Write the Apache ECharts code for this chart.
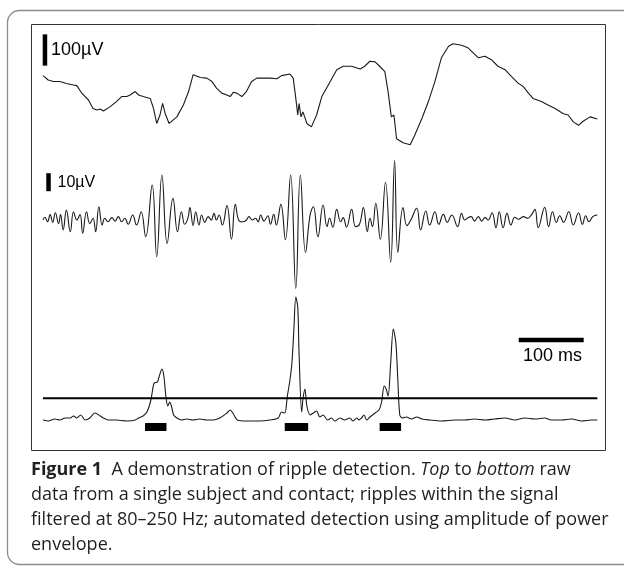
<!DOCTYPE html>
<html><head><meta charset="utf-8">
<script src="https://cdn.jsdelivr.net/npm/echarts@6/dist/echarts.min.js"></script>
<style>html,body{margin:0;padding:0;background:#fff}#c{width:624px;height:568px}</style>
</head><body><div id="c"></div>
<script>
// time in ms, raw LFP in µV
const rawTrace = [[0,78],[8,64],[16,59],[26,59],[36,53],[47,48],[52,46],[60,21],[70,0],[77,-27],[83,-32],[88,-29],[93,-35],[103,-22],[113,-5],[121,11],[129,11],[134,16],[142,27],[147,16],[154,11],[165,5],[170,-27],[175,-75],[180,-48],[184,-11],[188,-43],[194,-75],[206,-54],[216,-16],[224,27],[231,81],[242,72],[252,70],[260,59],[267,38],[275,22],[283,16],[288,11],[293,25],[298,22],[306,11],[313,27],[321,59],[329,70],[339,70],[349,70],[360,68],[367,78],[380,83],[385,70],[389,5],[392,-48],[394,-11],[397,-54],[400,-38],[406,-75],[413,-86],[421,-48],[429,11],[439,48],[452,97],[462,108],[475,108],[488,99],[495,108],[503,124],[511,122],[518,108],[526,91],[531,27],[536,-54],[540,-48],[544,-124],[554,-137],[565,-143],[572,-113],[583,-59],[593,-5],[603,59],[613,135],[624,172],[631,180],[644,175],[654,167],[662,151],[670,135],[680,140],[690,129],[700,108],[711,97],[721,75],[731,54],[739,43],[747,22],[754,5],[767,-5],[777,-16],[788,-27],[800,-43],[808,-48],[816,-70],[824,-81],[831,-68],[842,-54],[853,-61]];
// ripple band (80-250 Hz) in µV
const rippleTrace = [[0,0],[3,1.5],[7,-1],[11,3],[15,-1.3],[19,4],[24,-2],[27,3],[31,-5.5],[36,5.5],[42,-6.5],[47,4.6],[52,0],[57,3],[61,-7.4],[67,4.6],[72,-2],[77,1],[81,-6.5],[86,7.4],[91,-2.8],[95,1],[100,-1],[106,1.3],[111,-0.6],[116,1.9],[121,-1],[126,1],[131,-2.4],[138,2.8],[144,-2.8],[151,4.6],[158,-9.3],[168,19.4],[175,-20.4],[183,25],[191,-13],[200,12],[207,-6.5],[213,4.6],[218,-2.4],[223,1],[226,6.9],[231,-3.1],[235,4.6],[240,-2.8],[244,2.8],[249,-1.3],[254,1.9],[259,0],[263,3.7],[267,0],[271,2.8],[276,-2.8],[283,8],[290,-10.6],[296,8.7],[302,-0.6],[308,-1],[313,0],[317,1.9],[322,0],[327,1],[331,-1],[335,2.8],[340,-0.6],[346,2.4],[350,-2.4],[355,3.1],[359,-2.8],[366,8.7],[373,-11],[381,25],[389,-38],[396,25],[404,-18],[411,2.8],[416,7.4],[423,-9.3],[431,8.3],[437,-3.7],[441,1],[446,-4],[452,5.9],[458,-1],[462,1.3],[467,-4],[475,5.9],[481,-3.7],[487,-2.4],[493,6.9],[499,-6.5],[503,1],[507,-3.7],[512,9.3],[519,-10.6],[527,21],[535,-23.5],[541,33],[546,-18],[554,6.9],[560,-3.1],[566,0],[575,6.5],[581,-5.5],[589,5],[595,-2.8],[603,4.6],[609,-2.4],[616,3.1],[622,-1.3],[629,2.8],[638,-3.7],[644,3.7],[649,0],[654,1.3],[659,1.9],[664,-0.6],[670,1.9],[675,-0.6],[680,1.3],[685,0],[691,4],[697,-4.3],[702,4.6],[708,-4.3],[714,3.7],[720,-2.8],[726,1.5],[732,0.4],[739,1.9],[746,1],[752,3.1],[757,5.9],[762,-4.3],[772,7],[778,-3.7],[784,4.6],[790,-1.3],[795,2.4],[801,-1.3],[809,4.6],[816,-2.8],[824,4],[830,-2.4],[835,2.4],[840,-1],[846,1.9],[853,2.8]];
// power envelope amplitude (a.u.)
const envelopeTrace = [[0,0],[8,-0.1],[18,0.1],[26,0],[34,0.2],[42,0.2],[47,0.4],[52,0.2],[58,0.5],[65,0],[72,0.2],[80,0.7],[88,0.4],[93,0.2],[100,0],[113,0],[129,-0.1],[142,0],[147,0.2],[154,0.4],[160,0.8],[166,2],[171,3.7],[176,3.8],[179,4.4],[183,5.1],[186,4.4],[189,2.4],[192,1.4],[195,1.8],[198,1.3],[201,0.5],[206,0.2],[213,0],[221,0.1],[231,0],[241,0.1],[252,0],[262,0],[272,0.2],[283,0.7],[288,1],[293,0.6],[299,0],[313,-0.1],[334,-0.1],[349,0],[362,0.2],[367,0.8],[372,0.7],[376,2.4],[380,4],[383,5.7],[386,9],[389,12.3],[392,11.3],[394,6.7],[398,0.8],[400,2.1],[403,3.1],[406,1.4],[411,0.5],[416,0.7],[421,0.9],[426,0.3],[431,0.5],[438,0],[444,0.2],[449,-0.1],[457,0.2],[464,0],[472,0.2],[477,-0.1],[483,0.2],[486,0],[490,0.2],[494,0.5],[498,0],[503,0.3],[511,0.7],[517,1],[521,1.8],[525,3.4],[528,3.1],[531,2.4],[535,5.7],[539,9.1],[543,7.7],[546,4],[549,0.5],[553,0.2],[559,0.3],[567,0.1],[575,0.3],[583,0.1],[595,0],[613,-0.1],[634,0],[649,0],[664,0.1],[680,0],[695,0.1],[711,0.2],[726,0],[741,0.2],[757,0.1],[772,0.2],[782,0],[798,0],[813,0.1],[829,-0.1],[844,0],[853,0]];
const thresholdLevel = 2.17;
const detections = [[157,190],[372,408],[518,551]];
const detectionLevel = -0.7;
const timeRange = [0, 854];
const rawScaleBar = [[3,110],[3,210]];       // 100 µV
const rippleScaleBar = [[8.5,16],[8.5,26]];  // 10 µV
const timeScaleBar = [[732,8],[832,8]];      // 100 ms

const chart = echarts.init(document.getElementById('c'), null, {renderer:'canvas'});
const ink = '#1a1a1a';
const hiddenX = i => ({gridIndex:i, type:'value', min:timeRange[0], max:timeRange[1], show:false});
const lineS = (xi, data, w, extra) => Object.assign({
  type:'line', xAxisIndex:xi, yAxisIndex:xi, data:data, showSymbol:false, symbol:'none',
  silent:true, animation:false, clip:false,
  lineStyle:{color:ink, width:w, cap:'butt'}
}, extra||{});

const series = [
  lineS(0, rawTrace, 1.1),
  lineS(0, rawScaleBar, 4.5, {lineStyle:{color:'#000', width:4.5, cap:'butt'}}),
  lineS(1, rippleTrace, 1.1, {smooth:0.45}),
  lineS(1, rippleScaleBar, 4.5, {lineStyle:{color:'#000', width:4.5, cap:'butt'}}),
  lineS(2, envelopeTrace, 1.1, {smooth:0.3}),
  lineS(2, [[timeRange[0], thresholdLevel],[853, thresholdLevel]], 2, {lineStyle:{color:'#000', width:2}}),
  lineS(2, timeScaleBar, 4.5, {lineStyle:{color:'#000', width:4.5, cap:'butt'}})
].concat(detections.map(d => lineS(2, [[d[0], detectionLevel],[d[1], detectionLevel]], 8, {lineStyle:{color:'#000', width:8, cap:'butt'}})));

const capFont = '"Open Sans", "Noto Sans", sans-serif';
const capStyle = (txt, y) => ({
  type:'text', left:31, top:y, silent:true,
  style:{text:txt, font:'18px ' + capFont, fill:'#231f20',
    rich:{
      b:{fontWeight:'bold', fontSize:18, fontFamily:capFont, fill:'#231f20'},
      i:{fontStyle:'italic', fontSize:18, fontFamily:capFont, fill:'#231f20'}
    }}
});

chart.setOption({
  animation:false,
  grid:[
    {left:43, width:555, top:30, height:120},
    {left:43, width:555, top:160, height:140},
    {left:43, width:555, top:280, height:160}
  ],
  xAxis:[hiddenX(0), hiddenX(1), hiddenX(2)],
  yAxis:[
    {gridIndex:0, type:'value', min:-160, max:224, show:false},
    {gridIndex:1, type:'value', min:-44.444, max:33.333, show:false},
    {gridIndex:2, type:'value', min:-2, max:14, show:false}
  ],
  series:series,
  graphic:[
    {type:'rect', silent:true, z:-1, shape:{x:7.5, y:10.5, width:660, height:554, r:12}, style:{fill:'none', stroke:'#8c8c8c', lineWidth:1.3}},
    {type:'rect', silent:true, z:-1, shape:{x:31.5, y:24.5, width:574, height:426}, style:{fill:'none', stroke:'#333', lineWidth:1}},
    {type:'text', left:51, top:41.5, silent:true, style:{text:'100µV', font:'18px "Liberation Sans", Arial, sans-serif', fill:'#000'}},
    {type:'text', left:57.5, top:174.5, silent:true, style:{text:'10µV', font:'16px "Liberation Sans", Arial, sans-serif', fill:'#000'}},
    {type:'text', left:523, top:347, silent:true, style:{text:'100 ms', font:'18px "Liberation Sans", Arial, sans-serif', fill:'#000'}},
    capStyle('{b|Figure 1}  A demonstration of ripple detection. {i|Top} to {i|bottom} raw', 461),
    capStyle('data from a single subject and contact; ripples within the signal', 486),
    capStyle('filtered at 80–250 Hz; automated detection using amplitude of power', 511),
    capStyle('envelope.', 536)
  ]
});
</script></body></html>
